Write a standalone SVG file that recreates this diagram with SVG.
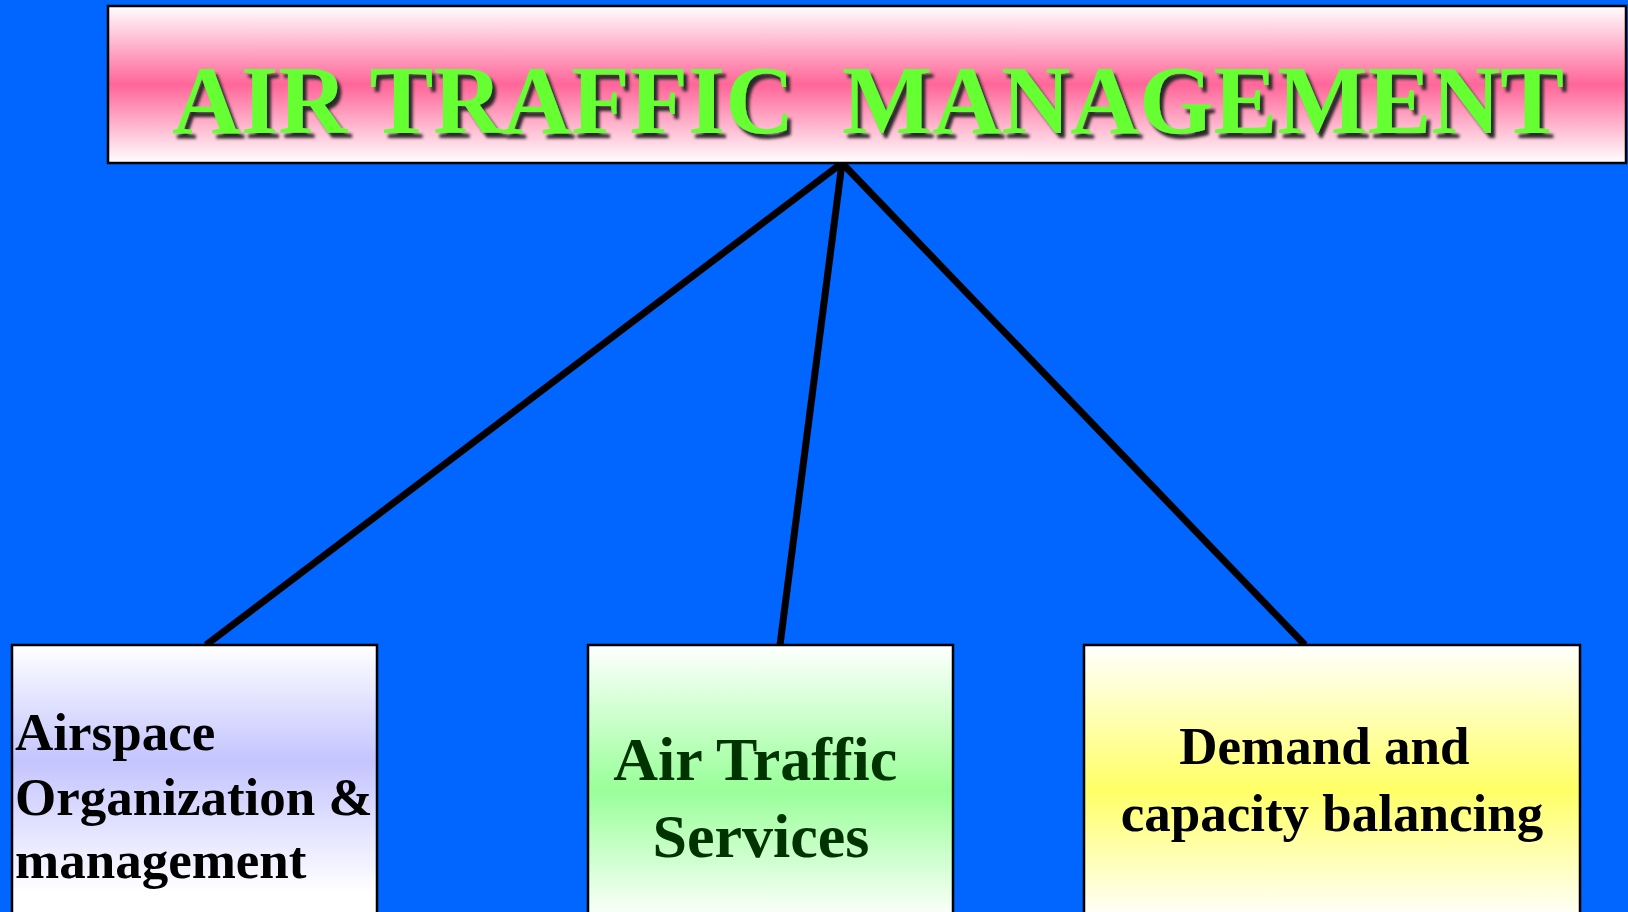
<svg xmlns="http://www.w3.org/2000/svg" width="1628" height="912" viewBox="0 0 1628 912">
<style>
.box{stroke:#000;stroke-width:2.5}
.conn{stroke:#000;stroke-width:7;fill:none;stroke-linecap:butt}
.lbl{font-family:"Liberation Serif","Times New Roman",serif;font-weight:bold}
</style>
<defs>
<linearGradient id="gTitle" x1="0" y1="0" x2="0" y2="1">
<stop offset="0" stop-color="#FFFFFF"/>
<stop offset="0.5" stop-color="#FF6699"/>
<stop offset="1" stop-color="#FFFFFF"/>
</linearGradient>
<linearGradient id="gBlue" x1="0" y1="0" x2="0" y2="1">
<stop offset="0" stop-color="#FFFFFF"/>
<stop offset="0.4" stop-color="#C4C4FF"/>
<stop offset="0.85" stop-color="#FFFFFF"/>
</linearGradient>
<linearGradient id="gGreen" x1="0" y1="0" x2="0" y2="1">
<stop offset="0" stop-color="#FFFFFF"/>
<stop offset="0.5" stop-color="#99FF99"/>
<stop offset="0.95" stop-color="#FFFFFF"/>
</linearGradient>
<linearGradient id="gYellow" x1="0" y1="0" x2="0" y2="1">
<stop offset="0" stop-color="#FFFFFF"/>
<stop offset="0.5" stop-color="#FFFF66"/>
<stop offset="0.95" stop-color="#FFFFFF"/>
</linearGradient>
<filter id="shadow" x="-5%" y="-20%" width="110%" height="150%">
<feGaussianBlur in="SourceAlpha" stdDeviation="1.5" result="b"/>
<feOffset in="b" dx="4" dy="5" result="o"/>
<feFlood flood-color="#2a2a2a"/>
<feComposite in2="o" operator="in" result="s"/>
<feMerge><feMergeNode in="s"/><feMergeNode in="SourceGraphic"/></feMerge>
</filter>
</defs>
<rect x="0" y="0" width="1628" height="912" fill="#0066FF"/>
<g id="connectors">
<line class="conn" x1="842" y1="163" x2="206" y2="645"/>
<line class="conn" x1="842" y1="163" x2="780" y2="645"/>
<line class="conn" x1="842" y1="163" x2="1305" y2="645"/>
</g>
<g id="title">
<rect class="box" x="108" y="6" width="1518" height="157" fill="url(#gTitle)"/>
<text class="lbl" x="172" y="133" font-size="98" fill="#66FF33" filter="url(#shadow)" textLength="1392" lengthAdjust="spacingAndGlyphs" xml:space="preserve">AIR TRAFFIC  MANAGEMENT</text>
</g>
<g id="airspace">
<rect class="box" x="12" y="645" width="365" height="290" fill="url(#gBlue)"/>
<text class="lbl" font-size="53" fill="#000">
<tspan x="15" y="750">Airspace</tspan>
<tspan x="15" y="815">Organization &amp;</tspan>
<tspan x="15" y="878">management</tspan>
</text>
</g>
<g id="ats">
<rect class="box" x="588" y="645" width="365" height="290" fill="url(#gGreen)"/>
<text class="lbl" font-size="62" fill="#003300" text-anchor="middle">
<tspan x="763" y="780">Air Traffic</tspan>
<tspan x="761" y="857">Services</tspan>
</text>
</g>
<g id="dcb">
<rect class="box" x="1084" y="645" width="496" height="290" fill="url(#gYellow)"/>
<text class="lbl" font-size="53" fill="#000" text-anchor="middle">
<tspan x="1331" y="764">Demand and</tspan>
<tspan x="1332" y="831">capacity balancing</tspan>
</text>
</g>
</svg>
